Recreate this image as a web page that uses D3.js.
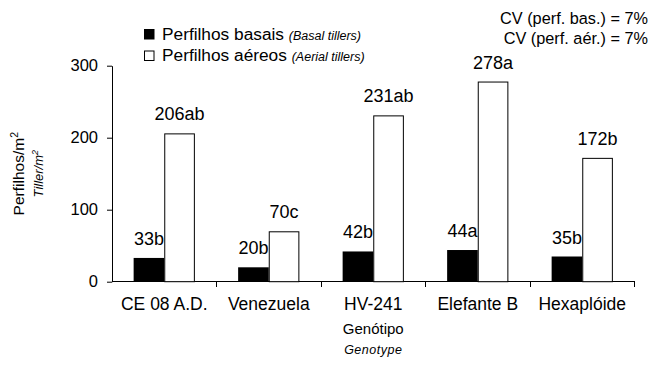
<!DOCTYPE html>
<html>
<head>
<meta charset="utf-8">
<script src="https://cdn.jsdelivr.net/npm/d3@7"></script>
<style>
  html, body { margin: 0; padding: 0; background: #fff; }
  svg { display: block; font-family: "Liberation Sans", Arial, sans-serif; }
</style>
</head>
<body>
<svg id="chart" width="651" height="369"></svg>
<script>
// Genotypes on the x axis
const genotypes = ["CE 08 A.D.", "Venezuela", "HV-241", "Elefante B", "Hexaplóide"];
// Tillers per m² for each genotype
const basal  = [33, 20, 42, 44, 35];
const aerial = [206, 70, 231, 278, 172];
// Mean-comparison letters printed after each value
const basalLetters  = ["b", "b", "b", "a", "b"];
const aerialLetters = ["ab", "c", "ab", "a", "b"];
const yTicks = [0, 100, 200, 300];
const seriesKeys = ["basal", "aerial"];

const svg = d3.select("#chart");
const ink = "#000";

const x = d3.scaleBand().domain(genotypes).range([112, 634.5]).paddingInner(0).paddingOuter(0);
const bw = x.bandwidth();
const xs = d3.scaleBand().domain(seriesKeys).range([bw * 0.207, bw * 0.793]).padding(0);
const y = d3.scaleLinear().domain([0, 300]).range([281.7, 65.7]);

const rows = genotypes.map((g, i) => ({
  g,
  basal: basal[i], aerial: aerial[i],
  basalLabel: basal[i] + basalLetters[i],
  aerialLabel: aerial[i] + aerialLetters[i]
}));

// Y axis
const yAxis = svg.append("g")
  .attr("transform", "translate(112,0)")
  .call(d3.axisLeft(y).tickValues(yTicks).tickSize(5).tickPadding(9).tickSizeOuter(0));
yAxis.select(".domain").attr("stroke", ink);
yAxis.selectAll(".tick line").attr("stroke", ink);
yAxis.selectAll(".tick text").attr("font-size", 16.5).attr("fill", ink)
  .attr("font-family", "Liberation Sans, Arial, sans-serif");

// X axis: baseline with ticks at the category boundaries
const xAxis = svg.append("g").attr("transform", `translate(0,${y(0)})`);
xAxis.append("line")
  .attr("x1", x.range()[0]).attr("x2", x.range()[1])
  .attr("stroke", ink).attr("shape-rendering", "crispEdges");
const bounds = genotypes.map(g => x(g) + bw);
xAxis.selectAll("line.bound").data(bounds).join("line")
  .attr("class", "bound")
  .attr("x1", d => d).attr("x2", d => d)
  .attr("y1", 0).attr("y2", 5)
  .attr("stroke", ink).attr("shape-rendering", "crispEdges");
xAxis.selectAll("text.cat").data(genotypes).join("text")
  .attr("class", "cat")
  .attr("x", d => x(d) + bw / 2)
  .attr("y", 28.5)
  .attr("text-anchor", "middle")
  .attr("font-size", 17.5)
  .attr("fill", ink)
  .text(d => d);

// Bars
const groups = svg.append("g").selectAll("g").data(rows).join("g")
  .attr("transform", d => `translate(${x(d.g)},0)`);

groups.append("rect")
  .attr("x", xs("basal")).attr("width", xs.bandwidth())
  .attr("y", d => y(d.basal)).attr("height", d => y(0) - y(d.basal))
  .attr("fill", ink);

groups.append("rect")
  .attr("x", xs("aerial") + 0.5).attr("width", xs.bandwidth() - 1)
  .attr("y", d => y(d.aerial) + 0.5).attr("height", d => y(0) - y(d.aerial) - 0.5)
  .attr("fill", "#fff").attr("stroke", ink).attr("stroke-width", 1);

// Value labels
groups.append("text")
  .attr("x", xs("basal") + xs.bandwidth() / 2)
  .attr("y", d => y(d.basal) - 13)
  .attr("text-anchor", "middle").attr("font-size", 18).attr("fill", ink)
  .text(d => d.basalLabel);
groups.append("text")
  .attr("x", xs("aerial") + xs.bandwidth() / 2)
  .attr("y", d => y(d.aerial) - 13)
  .attr("text-anchor", "middle").attr("font-size", 18).attr("fill", ink)
  .text(d => d.aerialLabel);

// Legend
const legendItems = [
  { key: "basal", pt: "Perfilhos basais", en: "(Basal tillers)", fill: ink },
  { key: "aerial", pt: "Perfilhos aéreos", en: "(Aerial tillers)", fill: "#fff" }
];
const legend = svg.append("g").selectAll("g").data(legendItems).join("g")
  .attr("transform", (d, i) => `translate(144,${29 + i * 21.5})`);
legend.append("rect")
  .attr("x", 0.5).attr("y", 0.5).attr("width", 9.5).attr("height", 9.5)
  .attr("fill", d => d.fill).attr("stroke", ink);
const lt = legend.append("text").attr("x", 18).attr("y", 10.5).attr("fill", ink);
lt.append("tspan").attr("font-size", 17.3).text(d => d.pt + " ");
lt.append("tspan").attr("font-size", 12.5).attr("font-style", "italic").text(d => d.en);

// Coefficients of variation
const cv = ["CV (perf. bas.) = 7%", "CV (perf. aér.) = 7%"];
svg.append("g").selectAll("text").data(cv).join("text")
  .attr("x", 648).attr("y", (d, i) => 24 + i * 19.5)
  .attr("text-anchor", "end").attr("font-size", 16.3).attr("fill", ink)
  .text(d => d);

// Y title
const yt = svg.append("g").attr("transform", `translate(0,${(y(0) + y(300)) / 2})`);
const yt1 = yt.append("text").attr("transform", "translate(24,0) rotate(-90)")
  .attr("text-anchor", "middle").attr("font-size", 15.5).attr("fill", ink);
yt1.append("tspan").text("Perfilhos/m");
yt1.append("tspan").attr("font-size", 10.5).attr("dy", -6).text("2");
const yt2 = yt.append("text").attr("transform", "translate(43,0) rotate(-90)")
  .attr("text-anchor", "middle").attr("font-size", 13).attr("font-style", "italic").attr("fill", ink);
yt2.append("tspan").text("Tiller/m");
yt2.append("tspan").attr("font-size", 9).attr("dy", -5).text("2");

// X title
const xc = (x.range()[0] + x.range()[1]) / 2;
svg.append("text").attr("x", xc).attr("y", 334).attr("text-anchor", "middle")
  .attr("font-size", 15).attr("fill", ink).text("Genótipo");
svg.append("text").attr("x", xc).attr("y", 354).attr("text-anchor", "middle")
  .attr("font-size", 12.5).attr("font-style", "italic").attr("fill", ink)
  .attr("letter-spacing", 0.5).text("Genotype");
</script>
</body>
</html>
